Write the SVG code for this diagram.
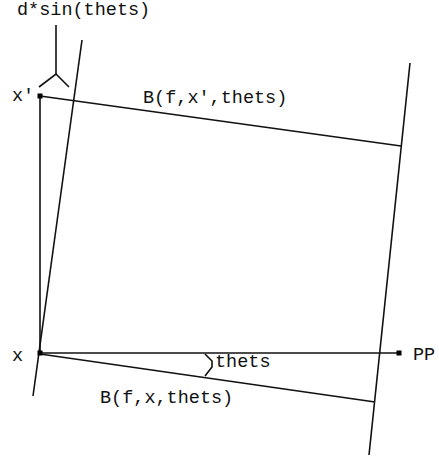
<svg xmlns="http://www.w3.org/2000/svg" width="439" height="462" viewBox="0 0 439 462">
<style>
.l{stroke:#111;stroke-width:1.6;fill:none;}
.t{font-family:"Liberation Mono","DejaVu Sans Mono",monospace;font-size:18.5px;fill:#111;}
.p{fill:#000;}
</style>
<rect width="439" height="462" fill="#fff"/>
<g id="connectors">
<line class="l" x1="82" y1="40" x2="33" y2="396"/>
<line class="l" x1="410" y1="63" x2="369" y2="455"/>
<line class="l" x1="40" y1="96" x2="40" y2="353"/>
<line class="l" x1="40" y1="96" x2="401" y2="146"/>
<line class="l" x1="40" y1="353" x2="399" y2="353"/>
<line class="l" x1="40" y1="354" x2="375" y2="402"/>
<polyline class="l" points="56,25 56,74"/>
<polyline class="l" points="39,87 56,74 69,87"/>
<polyline class="l" points="205,354 212,361 212,367 205,376"/>
</g>
<g id="node-xprime">
<rect class="p" x="37.5" y="93.5" width="5" height="5"/>
<text class="t" x="12" y="101">x'</text>
</g>
<g id="node-x">
<rect class="p" x="37.5" y="350.5" width="5" height="5"/>
<text class="t" x="12" y="361">x</text>
</g>
<g id="node-pp">
<rect class="p" x="396.5" y="350.5" width="5" height="5"/>
<text class="t" x="413" y="360">PP</text>
</g>
<g id="labels">
<text class="t" x="17" y="15">d*sin(thets)</text>
<text class="t" x="143" y="103">B(f,x',thets)</text>
<text class="t" x="215" y="367">thets</text>
<text class="t" x="100" y="403">B(f,x,thets)</text>
</g>
</svg>
